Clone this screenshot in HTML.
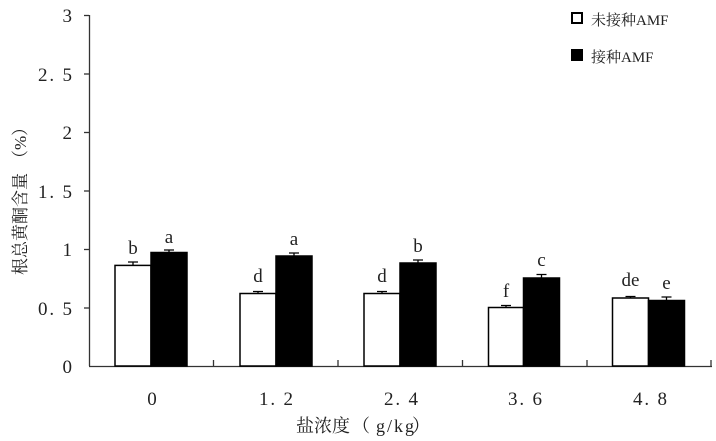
<!DOCTYPE html>
<html><head><meta charset="utf-8"><style>body{margin:0;background:#fff}svg{display:block}text{font-family:"Liberation Serif","Noto Serif CJK SC",serif;fill:#222}</style></head><body>
<svg width="716" height="441" viewBox="0 0 716 441" xmlns="http://www.w3.org/2000/svg">
<g stroke="#333" stroke-width="1.3" fill="none">
<line x1="89.5" y1="15" x2="89.5" y2="366"/>
<line x1="89" y1="366.5" x2="712" y2="366.5"/>
<line x1="84" y1="15.5" x2="89" y2="15.5"/><line x1="84" y1="74" x2="89" y2="74"/><line x1="84" y1="132.5" x2="89" y2="132.5"/><line x1="84" y1="191" x2="89" y2="191"/><line x1="84" y1="249.5" x2="89" y2="249.5"/><line x1="84" y1="308" x2="89" y2="308"/>
<line x1="213.5" y1="360" x2="213.5" y2="366"/><line x1="338" y1="360" x2="338" y2="366"/><line x1="462.5" y1="360" x2="462.5" y2="366"/><line x1="587" y1="360" x2="587" y2="366"/><line x1="711" y1="360" x2="711" y2="366"/>
</g>
<g font-size="19" text-anchor="end">
<text x="72" y="373">0</text><text x="72" y="315" textLength="34">0. 5</text><text x="72" y="256">1</text><text x="72" y="198" textLength="34">1. 5</text><text x="72" y="139">2</text><text x="72" y="81" textLength="34">2. 5</text><text x="72" y="22">3</text>
</g>
<g font-size="19" text-anchor="middle">
<text x="152" y="405">0</text><text x="276" y="405" textLength="34">1. 2</text><text x="401" y="405" textLength="34">2. 4</text><text x="525" y="405" textLength="34">3. 6</text><text x="650" y="405" textLength="34">4. 8</text>
</g>
<text x="296" y="432" font-size="18"><tspan>盐浓度</tspan><tspan x="352">（</tspan><tspan x="376" letter-spacing="2">g/kg</tspan><tspan x="412">）</tspan></text>
<text transform="translate(26,275) rotate(-90)" font-size="17"><tspan>根总黄酮含量</tspan><tspan x="108">（%）</tspan></text>
<g stroke="#000" stroke-width="1.5">
<rect x="115" y="265.4" width="36" height="100.6" fill="#fff"/><rect x="151" y="252.5" width="36" height="113.5" fill="#000"/>
<rect x="240" y="293.5" width="36" height="72.5" fill="#fff"/><rect x="276" y="256" width="36" height="110" fill="#000"/>
<rect x="364" y="293.5" width="36" height="72.5" fill="#fff"/><rect x="400" y="263" width="36" height="103" fill="#000"/>
<rect x="488.5" y="307.5" width="35" height="58.5" fill="#fff"/><rect x="523.5" y="278" width="36" height="88" fill="#000"/>
<rect x="612.5" y="298" width="36" height="68" fill="#fff"/><rect x="648.5" y="300.5" width="36" height="65.5" fill="#000"/>
</g>
<g stroke="#000" stroke-width="1.3">
<path d="M133 265v-3M128 262h10M169 252v-2M164 250h10M258 293v-1.5M253 291.5h10M294 256v-3M289 253h10M382 293v-1.5M377 291.5h10M418 263v-3M413 260h10M506 307v-1.5M501 305.5h10M541.5 278v-3.5M536.5 274.5h10M630.5 298v-1.5M625.5 296.5h10M666.5 300.5v-3.5M661.5 297h10"/>
</g>
<g font-size="19" text-anchor="middle">
<text x="133" y="254" fill="#1a3a7a">b</text><text x="169" y="243">a</text>
<text x="258" y="282">d</text><text x="294" y="245">a</text>
<text x="382" y="282">d</text><text x="418" y="252">b</text>
<text x="506" y="297" fill="#7a2010">f</text><text x="541.5" y="266">c</text>
<text x="630.5" y="286">de</text><text x="666.5" y="289">e</text>
</g>
<rect x="572" y="13" width="10" height="10" fill="#fff" stroke="#000" stroke-width="2"/>
<rect x="571" y="49" width="12" height="12" fill="#000"/>
<text x="591" y="25" font-size="15">未接种AMF</text>
<text x="591" y="62" font-size="15">接种AMF</text>
</svg>
</body></html>
